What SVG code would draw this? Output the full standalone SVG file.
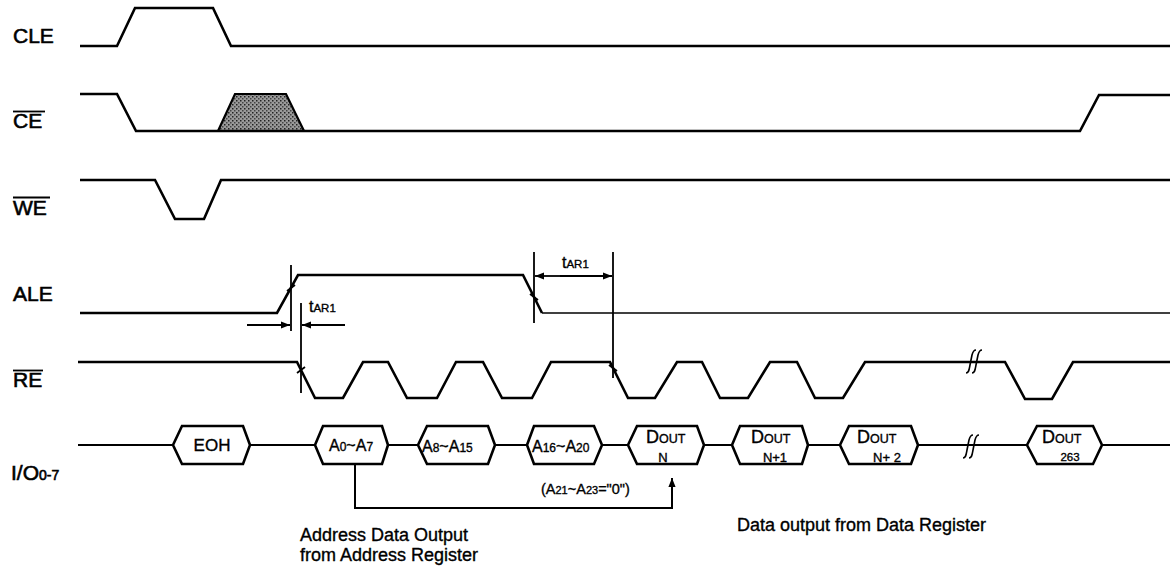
<svg xmlns="http://www.w3.org/2000/svg" width="1170" height="569" viewBox="0 0 1170 569">
<style>
.sig{fill:none;stroke:#000;stroke-width:2.6;stroke-linejoin:miter}
.thin{fill:none;stroke:#000;stroke-width:1.6}
.hex{fill:#fff;stroke:#000;stroke-width:2.6;stroke-linejoin:miter}
.bus{fill:none;stroke:#000;stroke-width:2}
.lbl{font-family:"Liberation Sans",Arial,sans-serif;font-size:21px;fill:#000;stroke:#000;stroke-width:0.6}
.t{font-family:"Liberation Sans",Arial,sans-serif;fill:#000;stroke:#000;stroke-width:0.35}
.dim{fill:none;stroke:#000;stroke-width:1.8}
.ol{stroke:#000;stroke-width:1.8}
</style>
<defs>
<marker id="ah" viewBox="0 0 10 10" refX="10" refY="5" markerWidth="9" markerHeight="9" markerUnits="userSpaceOnUse" orient="auto">
<path d="M0,1 L10,5 L0,9 Z" fill="#000"/>
</marker>
<marker id="ahb" viewBox="0 0 10 10" refX="10" refY="5" markerWidth="9" markerHeight="12" markerUnits="userSpaceOnUse" orient="auto">
<path d="M0,1 L10,5 L0,9 Z" fill="#000"/>
</marker>
<pattern id="stip" width="4" height="4" patternUnits="userSpaceOnUse">
<rect width="4" height="4" fill="#9a9a9a"/>
<rect x="0" y="0" width="1.5" height="1.5" fill="#222"/>
<rect x="2" y="2" width="1.5" height="1.5" fill="#444"/>
</pattern>
</defs>
<rect width="1170" height="569" fill="#fff"/>

<g id="labels">
<text class="lbl" x="13" y="43">CLE</text>
<text class="lbl" x="13" y="128">CE</text>
<line class="ol" x1="13" y1="111.5" x2="45" y2="111.5"/>
<text class="lbl" x="13" y="215">WE</text>
<line class="ol" x1="13" y1="197.5" x2="50" y2="197.5"/>
<text class="lbl" x="13" y="301">ALE</text>
<text class="lbl" x="13" y="387">RE</text>
<line class="ol" x1="13" y1="370.5" x2="43" y2="370.5"/>
<text class="lbl" x="11" y="480">I/O<tspan font-size="14">0-7</tspan></text>
</g>

<g id="sig-CLE"><path class="sig" d="M80,46 H117 L135,8 H213 L231,46 H1170"/></g>
<g id="sig-CE">
<path d="M218,131 L235,94 H286 L304,131 Z" fill="url(#stip)" stroke="#000" stroke-width="2.2"/>
<path class="sig" d="M80,94 H117 L136,131 H1080 L1099,95 H1170"/>
</g>
<g id="sig-WE"><path class="sig" d="M80,180 H155 L175,219 H204 L221,180 H1170"/></g>
<g id="sig-ALE">
<path class="sig" d="M80,313 H277 L298,275 H523 L542,313"/>
<path class="thin" d="M542,313 H1170"/>
</g>
<g id="sig-RE">
<path class="sig" d="M78,362 H297 L315,398 H343 L363,362 H388 L407,398 H437 L456,362 H483 L502,398 H532 L551,362 H610 L628,398 H655 L677,362 H702 L720,398 H748 L770,362 H797 L815,398 H843 L865,362 H1005 L1025,399 H1052 L1073,362 H1170"/>
<path class="thin" d="M966,373 c3,0 3,-3 4,-8 l2,-10 c1,-4 2,-5 4,-5 M972,373 c3,0 3,-3 4,-8 l2,-10 c1,-4 2,-5 4,-5"/>
</g>

<g id="timing">
<line class="dim" x1="291" y1="265" x2="291" y2="331"/>
<line class="dim" x1="301" y1="303" x2="301" y2="393"/>
<line class="dim" x1="247" y1="325" x2="290" y2="325" marker-end="url(#ah)"/>
<line class="dim" x1="345" y1="325" x2="302" y2="325" marker-end="url(#ah)"/>
<text class="t" x="309" y="312" font-size="16">t<tspan font-size="11.5">AR1</tspan></text>
<line class="dim" x1="534" y1="252" x2="534" y2="323"/>
<line class="dim" x1="613" y1="252" x2="613" y2="378"/>
<line class="dim" x1="560" y1="276" x2="535" y2="276" marker-end="url(#ah)"/>
<line class="dim" x1="560" y1="276" x2="612" y2="276" marker-end="url(#ah)"/>
<text class="t" x="562" y="268" font-size="16">t<tspan font-size="11.5">AR1</tspan></text>
<path class="dim" d="M287,291 L295,285 M297,373 L305,367 M530,294 L538,300 M609,365 L617,371"/>
</g>

<g id="bus-lines">
<path class="bus" d="M78,445 H173 M250,445 H315 M388,445 H418 M495,445 H527 M602,445 H628 M704,445 H732 M808,445 H840 M918,445 H1027 M1102,445 H1170"/>
<path class="thin" d="M963,458 c3,0 3,-3 4,-8 l2,-10 c1,-4 2,-5 4,-5 M969,458 c3,0 3,-3 4,-8 l2,-10 c1,-4 2,-5 4,-5"/>
</g>

<g id="io-EOH">
<polygon class="hex" points="173,445 182,426 243,426 250,445 243,464 182,464"/>
<text class="t" x="212" y="451" font-size="17" text-anchor="middle">EOH</text>
</g>
<g id="io-A0A7">
<polygon class="hex" points="315,445 323,426 382,426 388,445 382,464 323,464"/>
<text class="t" x="329" y="451" font-size="16">A<tspan font-size="12">0</tspan>~A<tspan font-size="12">7</tspan></text>
</g>
<g id="io-A8A15">
<polygon class="hex" points="418,445 427,426 488,426 495,445 488,464 427,464"/>
<text class="t" x="422" y="452" font-size="16">A<tspan font-size="12">8</tspan>~A<tspan font-size="12">15</tspan></text>
</g>
<g id="io-A16A20">
<polygon class="hex" points="527,445 534,426 594,426 602,445 594,464 534,464"/>
<text class="t" x="532" y="452" font-size="16">A<tspan font-size="12">16</tspan>~A<tspan font-size="12">20</tspan></text>
</g>
<g id="io-DoutN">
<polygon class="hex" points="628,445 637,426 697,426 704,445 697,464 637,464"/>
<text class="t" x="646" y="443" font-size="18">D<tspan font-size="12.5">OUT</tspan></text>
<text class="t" x="663" y="462" font-size="13" text-anchor="middle">N</text>
</g>
<g id="io-DoutN1">
<polygon class="hex" points="732,445 740,426 802,426 808,445 802,464 740,464"/>
<text class="t" x="751" y="443" font-size="18">D<tspan font-size="12.5">OUT</tspan></text>
<text class="t" x="775" y="462" font-size="13" text-anchor="middle">N+1</text>
</g>
<g id="io-DoutN2">
<polygon class="hex" points="840,445 849,426 911,426 918,445 911,464 849,464"/>
<text class="t" x="857" y="443" font-size="18">D<tspan font-size="12.5">OUT</tspan></text>
<text class="t" x="887" y="462" font-size="13" text-anchor="middle">N+ 2</text>
</g>
<g id="io-Dout263">
<polygon class="hex" points="1027,445 1037,426 1093,426 1102,445 1093,464 1037,464"/>
<text class="t" x="1042" y="443" font-size="18">D<tspan font-size="12.5">OUT</tspan></text>
<text class="t" x="1070" y="461" font-size="11.5" text-anchor="middle">263</text>
</g>

<g id="connectors">
<path class="bus" d="M355,464 V508 H672 V478" marker-end="url(#ahb)"/>
</g>

<g id="notes">
<text class="t" x="541" y="494" font-size="14.5">(A<tspan font-size="11">21</tspan>~A<tspan font-size="11">23</tspan>="0")</text>
<text class="t" x="300" y="541" font-size="18">Address Data Output</text>
<text class="t" x="300" y="561" font-size="18">from Address Register</text>
<text class="t" x="737" y="531" font-size="18">Data output from Data Register</text>
</g>
</svg>
